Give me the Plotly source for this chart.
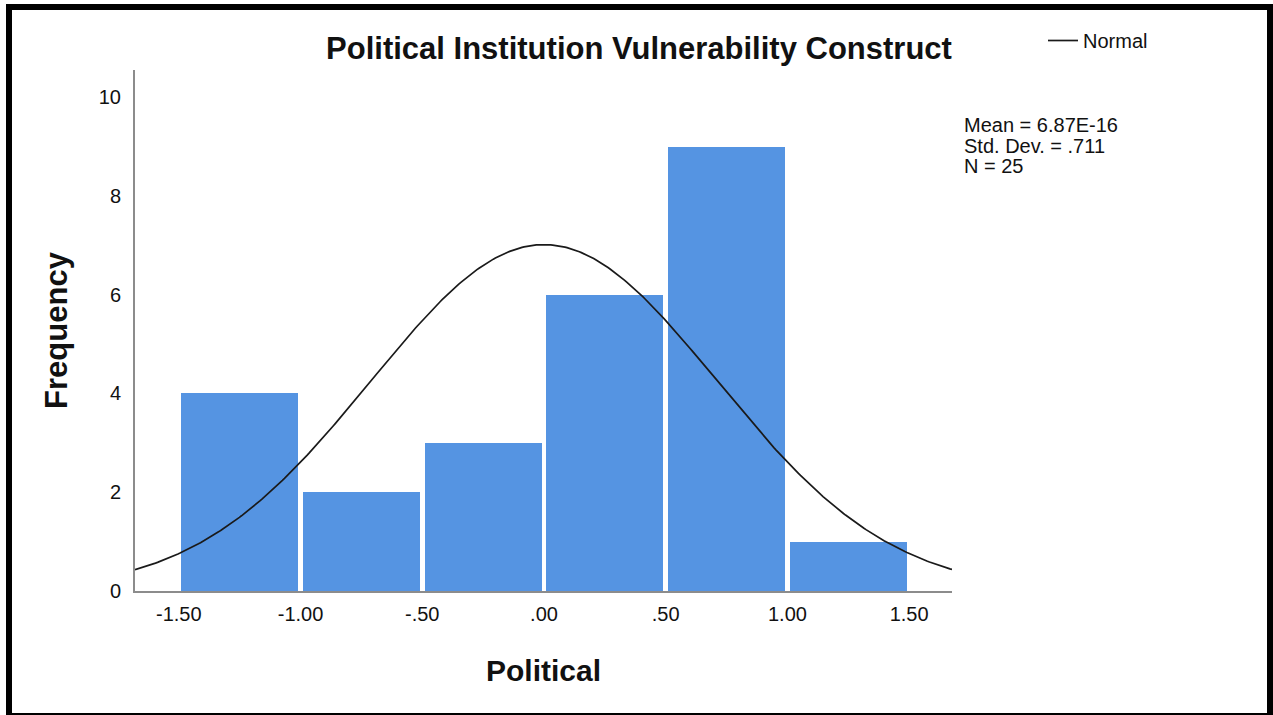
import numpy as np
import plotly.graph_objects as go

# Histogram of the standardized "Political" construct scores
BIN_EDGES = [-1.5, -1.0, -0.5, 0.0, 0.5, 1.0, 1.5]
FREQUENCIES = [4, 2, 3, 6, 9, 1]

TICK_VALUES = [-1.5, -1.0, -0.5, 0.0, 0.5, 1.0, 1.5]
TICK_LABELS = ["-1.50", "-1.00", "-.50", ".00", ".50", "1.00", "1.50"]
Y_TICKS = [0, 2, 4, 6, 8, 10]

# Summary statistics of the sample
MEAN = 6.87e-16
SD = 0.711
N = sum(FREQUENCIES)

BAR_COLOR = "#5594e2"
AXIS_COLOR = "#8c8c8c"
FONT = "Liberation Sans, Arial, sans-serif"

W, H = 1273, 715
M_L, M_R, M_T, M_B = 135, 321, 70, 124
X_RANGE = [-1.68, 1.676]
Y_RANGE = [0, 10.55]

bin_width = BIN_EDGES[1] - BIN_EDGES[0]
centers = [(a + b) / 2 for a, b in zip(BIN_EDGES[:-1], BIN_EDGES[1:])]

# Fitted normal curve scaled to counts per bin
xs = np.linspace(X_RANGE[0], X_RANGE[1], 400)
ys = N * bin_width * np.exp(-0.5 * ((xs - MEAN) / SD) ** 2) / (SD * np.sqrt(2 * np.pi))

fig = go.Figure()
fig.add_trace(go.Bar(
    x=centers, y=FREQUENCIES, width=bin_width * 0.96,
    marker=dict(color=BAR_COLOR, line=dict(width=0)),
    showlegend=False, hoverinfo="x+y",
))
fig.add_trace(go.Scatter(
    x=xs, y=ys, mode="lines", name="Normal",
    line=dict(color="#1a1a1a", width=1.7),
))

pw = W - M_L - M_R
ph = H - M_T - M_B


def px_x(p):
    return (p - M_L) / pw


def px_y(p):
    return (H - M_B - p) / ph


stats_lines = [
    f"Mean = {MEAN:.2E}",
    "Std. Dev. = " + f"{SD:.3f}"[1:],
    f"N = {N}",
]
stats_y = [125, 146, 166]
annotations = [
    dict(text=t, x=px_x(962), y=px_y(yy), xref="paper", yref="paper",
         xanchor="left", yanchor="middle", showarrow=False,
         font=dict(family=FONT, size=20, color="#111"))
    for t, yy in zip(stats_lines, stats_y)
]

# Black frame around the whole chart
frame = [
    dict(type="rect", xref="paper", yref="paper",
         x0=px_x(9), x1=px_x(1270), y0=px_y(716), y1=px_y(7),
         line=dict(color="black", width=6), fillcolor="rgba(0,0,0,0)", layer="above"),
]

fig.update_layout(
    width=W, height=H,
    margin=dict(l=M_L, r=M_R, t=M_T, b=M_B),
    paper_bgcolor="white", plot_bgcolor="white",
    font=dict(family=FONT, size=20, color="#111"),
    title=dict(text="Political Institution Vulnerability Construct",
               x=639 / W, xref="container", xanchor="center",
               y=1 - 48 / H, yref="container", yanchor="middle",
               font=dict(family=FONT, size=31, weight="bold", color="#111")),
    bargap=0,
    xaxis=dict(range=X_RANGE, tickvals=TICK_VALUES, ticktext=TICK_LABELS,
               showgrid=False, zeroline=False, showline=True,
               linecolor=AXIS_COLOR, linewidth=2, ticks="",
               ticklabelstandoff=4,
               tickfont=dict(family=FONT, size=20, color="#111"),
               title=dict(text="Political", standoff=36,
                          font=dict(family=FONT, size=30, weight="bold", color="#111"))),
    yaxis=dict(range=Y_RANGE, tickvals=Y_TICKS,
               showgrid=False, zeroline=False, showline=True,
               linecolor=AXIS_COLOR, linewidth=2, ticks="",
               ticklabelstandoff=8,
               tickfont=dict(family=FONT, size=20, color="#111"),
               title=dict(text="Frequency", standoff=22,
                          font=dict(family=FONT, size=31, weight="bold", color="#111"))),
    legend=dict(x=px_x(1043), y=px_y(21), xanchor="left", yanchor="top",
                bgcolor="rgba(0,0,0,0)", borderwidth=0,
                font=dict(family=FONT, size=20, color="#111")),
    annotations=annotations,
    shapes=frame,
)

fig.write_html("out.html")
